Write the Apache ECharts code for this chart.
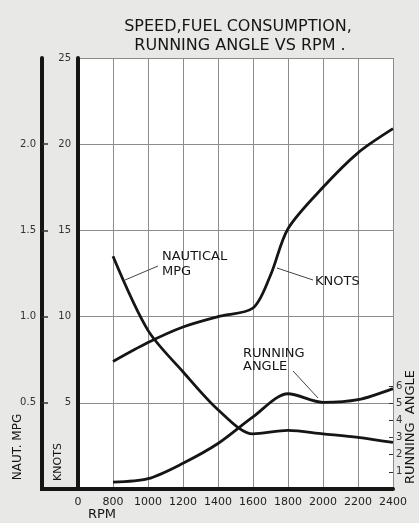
<!DOCTYPE html>
<html><head><meta charset="utf-8">
<script src="https://cdn.jsdelivr.net/npm/echarts@6/dist/echarts.min.js"></script>
<style>html,body{margin:0;padding:0;background:#e8e8e6}#c{width:419px;height:523px}</style>
</head><body><div id="c"></div>
<script>
// ---- data ----
const rpm = [800, 1000, 1200, 1400, 1600, 1800, 2000, 2200, 2400];
const knotsRpm = [800, 1000, 1200, 1400, 1600, 1700, 1800, 2000, 2200, 2400];
const knots = [7.4, 8.5, 9.4, 10.0, 10.5, 12.4, 15.1, 17.5, 19.5, 20.9];
const mpg = [1.35, 0.92, 0.68, 0.46, 0.32, 0.34, 0.32, 0.30, 0.27];
const runningAngle = [0.4, 0.6, 1.5, 2.65, 4.2, 5.55, 5.05, 5.2, 5.85];
const knotsTicks = [5, 10, 15, 20, 25];
const mpgTicks = [0.5, 1.0, 1.5, 2.0];
const angleTicks = [1, 2, 3, 4, 5, 6];
const rpmStartLabel = '0';

const FONT = 'DejaVu Sans';
const INK = '#151515';
const GRIDC = '#8c8c8c';

const chart = echarts.init(document.getElementById('c'), null, {renderer: 'canvas'});
const pair = (xs, ys) => xs.map((x, i) => [x, ys[i]]);

function txt(x, y, text, size, opts) {
  return Object.assign({
    type: 'text', x: x, y: y, z: 50,
    style: Object.assign({text: text, fill: INK, font: size + 'px "' + FONT + '"',
      align: 'left', verticalAlign: 'middle'}, opts && opts.style || {})
  }, opts && opts.el || {});
}
function seg(x1, y1, x2, y2, w, c) {
  return {type: 'line', z: 50, shape: {x1: x1, y1: y1, x2: x2, y2: y2},
    style: {stroke: c || '#444', lineWidth: w || 1}};
}

const option = {
  backgroundColor: '#e8e8e6',
  animation: false,
  grid: [
    {left: 78, right: 26, top: 58, bottom: 34, show: true, backgroundColor: '#ffffff', borderWidth: 0},
    {left: 78, right: 26, bottom: 34, height: 103}
  ],
  xAxis: [
    {gridIndex: 0, type: 'value', min: 600, max: 2400, interval: 200,
      axisLine: {show: true, onZero: false, lineStyle: {color: INK, width: 4}},
      axisTick: {show: false},
      axisLabel: {margin: 8, fontSize: 11, color: '#222', fontFamily: FONT,
        formatter: v => v === 600 ? rpmStartLabel : String(v)},
      splitLine: {show: true, lineStyle: {color: GRIDC, width: 1}}},
    {gridIndex: 1, type: 'value', min: 600, max: 2400, show: false}
  ],
  yAxis: [
    {gridIndex: 0, type: 'value', min: 0, max: 25, interval: 5, position: 'left',
      axisLine: {show: true, onZero: false, lineStyle: {color: INK, width: 4}},
      axisTick: {show: false},
      axisLabel: {margin: 7, fontSize: 10, color: '#333', fontFamily: FONT,
        formatter: v => knotsTicks.includes(v) ? String(v) : ''},
      splitLine: {show: true, lineStyle: {color: GRIDC, width: 1}}},
    {gridIndex: 0, type: 'value', min: 0, max: 2.5, interval: 0.5, position: 'left', offset: 36,
      axisLine: {show: true, onZero: false, lineStyle: {color: INK, width: 4}},
      axisTick: {show: true, inside: true, length: 6, customValues: mpgTicks,
        lineStyle: {color: '#333', width: 1.5}},
      axisLabel: {margin: 6, fontSize: 10, color: '#333', fontFamily: FONT, customValues: mpgTicks,
        formatter: v => Number(v).toFixed(1)},
      splitLine: {show: false}},
    {gridIndex: 1, type: 'value', min: 0, max: 6, interval: 1, position: 'right',
      axisLine: {show: false},
      axisTick: {show: true, inside: true, length: 4, customValues: angleTicks,
        lineStyle: {color: '#333', width: 1}},
      axisLabel: {margin: 3, fontSize: 10, color: '#333', fontFamily: FONT, customValues: angleTicks,
        formatter: v => String(v)},
      splitLine: {show: false}}
  ],
  series: [
    {name: 'KNOTS', type: 'line', xAxisIndex: 0, yAxisIndex: 0, data: pair(knotsRpm, knots),
      smooth: 0.3, showSymbol: false, lineStyle: {color: INK, width: 2.8}, z: 5},
    {name: 'NAUTICAL MPG', type: 'line', xAxisIndex: 0, yAxisIndex: 1, data: pair(rpm, mpg),
      smooth: 0.3, showSymbol: false, lineStyle: {color: INK, width: 2.8}, z: 5},
    {name: 'RUNNING ANGLE', type: 'line', xAxisIndex: 1, yAxisIndex: 2, data: pair(rpm, runningAngle),
      smooth: 0.3, showSymbol: false, lineStyle: {color: INK, width: 2.8}, z: 5}
  ],
  graphic: [
    txt(238, 27, 'SPEED,FUEL CONSUMPTION,', 16, {style: {align: 'center'}}),
    txt(240, 46, 'RUNNING ANGLE VS RPM .', 16, {style: {align: 'center'}}),
    txt(102, 515, 'RPM', 13, {style: {align: 'center'}}),
    txt(18, 447, 'NAUT. MPG', 12, {style: {align: 'center'}, el: {rotation: Math.PI / 2}}),
    txt(58, 462, 'KNOTS', 11, {style: {align: 'center'}, el: {rotation: Math.PI / 2}}),
    txt(411, 427, 'RUNNING  ANGLE', 13, {style: {align: 'center'}, el: {rotation: Math.PI / 2}}),
    txt(162, 256.5, 'NAUTICAL', 13),
    txt(162, 271.5, 'MPG', 13),
    txt(315, 281.5, 'KNOTS', 13),
    txt(243, 353.5, 'RUNNING', 13),
    txt(243, 367, 'ANGLE', 13),
    seg(125, 280, 158, 266),
    seg(277, 268, 313, 280),
    seg(293, 371, 318, 398),
    seg(40, 489, 80, 489, 4, INK)
  ]
};
chart.setOption(option);
</script>
</body></html>
